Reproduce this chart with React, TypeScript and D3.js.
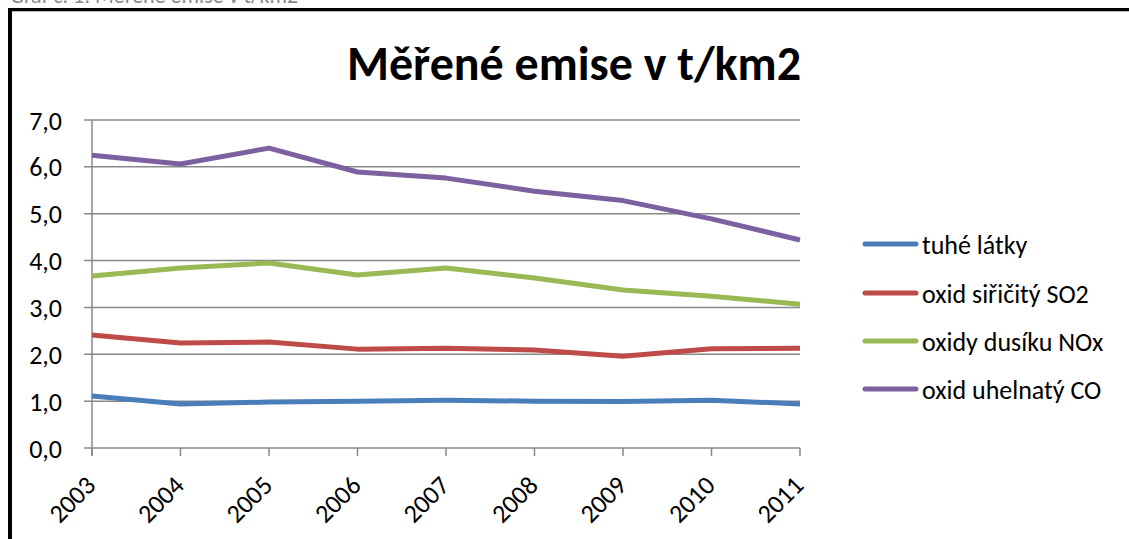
import React from "react";
import * as d3 from "d3";

const years = ["2003", "2004", "2005", "2006", "2007", "2008", "2009", "2010", "2011"];
const tuheLatky = [1.11, 0.94, 0.98, 1.0, 1.02, 1.0, 0.99, 1.02, 0.94];
const oxidSiricity = [2.41, 2.24, 2.26, 2.11, 2.13, 2.09, 1.96, 2.12, 2.13];
const oxidyDusiku = [3.67, 3.84, 3.95, 3.69, 3.84, 3.63, 3.37, 3.24, 3.07];
const oxidUhelnaty = [6.25, 6.06, 6.4, 5.89, 5.76, 5.48, 5.28, 4.89, 4.44];
const yTicks = [0, 1, 2, 3, 4, 5, 6, 7];
const seriesNames = ["tuhé látky", "oxid siřičitý SO2", "oxidy dusíku NOx", "oxid uhelnatý CO"];
const seriesColors = ["#4A7EBB", "#BE4B48", "#98B954", "#7D60A0"];
const title = "Měřené emise v t/km2";

const FONT = "Carlito, Calibri, Lato, 'Open Sans', sans-serif";

export default function App() {
  const W = 1129, H = 539;
  const x = d3.scalePoint<string>().domain(years).range([92, 800]);
  const y = d3.scaleLinear().domain([0, 7]).range([448, 120]);
  const all = [tuheLatky, oxidSiricity, oxidyDusiku, oxidUhelnaty];
  const line = d3
    .line<number>()
    .x((_, i) => x(years[i]) as number)
    .y((d) => y(d));
  const fmt = (v: number) => v.toFixed(1).replace(".", ",");
  const legendY = [244, 293, 341, 389];

  return (
    <svg width={W} height={H} style={{ position: "absolute", left: 0, top: 0 }} fontFamily={FONT}>
      <rect x={0} y={0} width={W} height={H} fill="#fff" />
      <text x={10} y={3} fontSize={22} fill="#888">Graf č. 1: Měřené emise v t/km2</text>
      {/* frame */}
      <line x1={10} y1={9.5} x2={W} y2={9.5} stroke="#000" strokeWidth={3} />
      <line x1={10} y1={11.5} x2={W} y2={11.5} stroke="#bbb" strokeWidth={1} />
      <line x1={10} y1={8} x2={10} y2={H} stroke="#000" strokeWidth={4} />
      <text x={574} y={80} fontSize={48} fontWeight="bold" textAnchor="middle" fill="#000">{title}</text>
      {/* grid */}
      {yTicks.map((t) => (
        <g key={t}>
          <line x1={84} x2={800} y1={y(t)} y2={y(t)} stroke="#888" strokeWidth={1.5} />
          <text x={62} y={y(t) + 9.5} fontSize={26} textAnchor="end" fill="#000">{fmt(t)}</text>
        </g>
      ))}
      <line x1={92} x2={92} y1={120} y2={456} stroke="#888" strokeWidth={1.5} />
      {years.map((yr) => (
        <g key={yr}>
          <line x1={x(yr)} x2={x(yr)} y1={448} y2={456} stroke="#888" strokeWidth={1.5} />
          <text
            transform={`translate(${(x(yr) as number) + 5},${487}) rotate(-45)`}
            fontSize={26}
            textAnchor="end"
            fill="#000"
          >
            {yr}
          </text>
        </g>
      ))}
      {all.map((s, i) => (
        <path key={i} d={line(s) as string} fill="none" stroke={seriesColors[i]} strokeWidth={5} strokeLinejoin="round" />
      ))}
      {seriesNames.map((n, i) => (
        <g key={n}>
          <line x1={865} x2={916} y1={legendY[i]} y2={legendY[i]} stroke={seriesColors[i]} strokeWidth={5} strokeLinecap="round" />
          <text x={922} y={legendY[i] + 9.5} fontSize={26} fill="#000">{n}</text>
        </g>
      ))}
    </svg>
  );
}
